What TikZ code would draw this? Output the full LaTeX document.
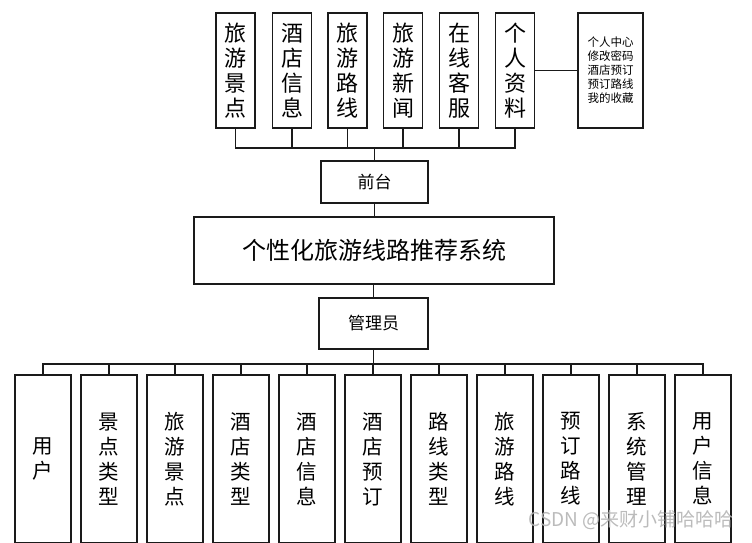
\documentclass[tikz,border=0pt]{standalone}
\usepackage{fontspec}
\setmainfont{Noto Sans CJK SC}
\usepackage{xcolor}
\definecolor{colLine}{HTML}{1A1A1A}
\definecolor{colMark}{HTML}{B4B4B4}
\usepackage{tikz}
\usetikzlibrary{positioning}

\tikzset{
  module/.style={draw=colLine, line width=1.2pt, inner sep=0pt, align=center, text=black},
  topbox/.style={module, minimum width=39pt, minimum height=115pt, font=\fontsize{22}{25}\selectfont},
  subbox/.style={module, minimum width=56pt, minimum height=168pt, font=\fontsize{20.5}{25}\selectfont},
  link/.style={draw=colLine, line width=1.2pt}
}

\begin{document}
\begin{tikzpicture}[x=1pt, y=-1pt]
        \useasboundingbox (0,0) rectangle (752,542);

        % === Front end modules ===
        \node[topbox] (front1) at (235.5,70.5) {旅\\游\\景\\点};
        \node[topbox] (front2) at (292,70.5)   {酒\\店\\信\\息};
        \node[topbox] (front3) at (347.5,70.5) {旅\\游\\路\\线};
        \node[topbox] (front4) at (403,70.5)   {旅\\游\\新\\闻};
        \node[topbox] (front5) at (459,70.5)   {在\\线\\客\\服};
        \node[topbox] (front6) at (515,70.5)   {个\\人\\资\\料};
        \node[module, minimum width=65pt, minimum height=115pt, font=\fontsize{11.5}{14}\selectfont]
            (profile) at (610.5,70.5) {个人中心\\修改密码\\酒店预订\\预订路线\\我的收藏};

        % === Centre ===
        \node[module, minimum width=107pt, minimum height=42pt, font=\fontsize{17}{20}\selectfont]
            (frontend) at (374.5,182) {前台};
        \node[module, minimum width=360pt, minimum height=67pt, font=\fontsize{24}{28}\selectfont]
            (system) at (374,250.5) {个性化旅游线路推荐系统};
        \node[module, minimum width=109pt, minimum height=51pt, font=\fontsize{17}{20}\selectfont]
            (admin) at (373.5,323.5) {管理员};

        % === Back end modules ===
        \node[subbox] (back1)  at (43,459)  {用\\户};
        \node[subbox] (back2)  at (109,459) {景\\点\\类\\型};
        \node[subbox] (back3)  at (175,459) {旅\\游\\景\\点};
        \node[subbox] (back4)  at (241,459) {酒\\店\\类\\型};
        \node[subbox] (back5)  at (307,459) {酒\\店\\信\\息};
        \node[subbox] (back6)  at (373,459) {酒\\店\\预\\订};
        \node[subbox] (back7)  at (439,459) {路\\线\\类\\型};
        \node[subbox] (back8)  at (505,459) {旅\\游\\路\\线};
        \node[subbox] (back9)  at (571,459) {预\\订\\路\\线};
        \node[subbox] (back10) at (637,459) {系\\统\\管\\理};
        \node[subbox] (back11) at (703,459) {用\\户\\信\\息};

        % Bus lines
        \coordinate (busTop) at (374.5,148);
        \coordinate (busBottom) at (373.5,364);

        \draw[link] (front1.south) |- (busTop);
        \draw[link] (front2.south) |- (busTop);
        \draw[link] (front3.south) |- (busTop);
        \draw[link] (front4.south) |- (busTop);
        \draw[link] (front5.south) |- (busTop);
        \draw[link] (front6.south) |- (busTop);
        \draw[link] (busTop) -- (frontend.north);
        \draw[link] (front6.east) -- (profile.west);
        \draw[link] (frontend.south) -- (frontend.south |- system.north);
        \draw[link] (admin.north) -- (admin.north |- system.south);
        \draw[link] (admin.south) -- (busBottom);

        \draw[link] (busBottom) -| (back1.north);
        \draw[link] (busBottom) -| (back2.north);
        \draw[link] (busBottom) -| (back3.north);
        \draw[link] (busBottom) -| (back4.north);
        \draw[link] (busBottom) -| (back5.north);
        \draw[link] (busBottom) -| (back6.north);
        \draw[link] (busBottom) -| (back7.north);
        \draw[link] (busBottom) -| (back8.north);
        \draw[link] (busBottom) -| (back9.north);
        \draw[link] (busBottom) -| (back10.north);
        \draw[link] (busBottom) -| (back11.north);

        % Watermark
        \node[font=\fontsize{19}{21}\selectfont, text=colMark, opacity=0.9] (mark) at (631,520) {CSDN @来财小铺哈哈哈};
\end{tikzpicture}
\end{document}
